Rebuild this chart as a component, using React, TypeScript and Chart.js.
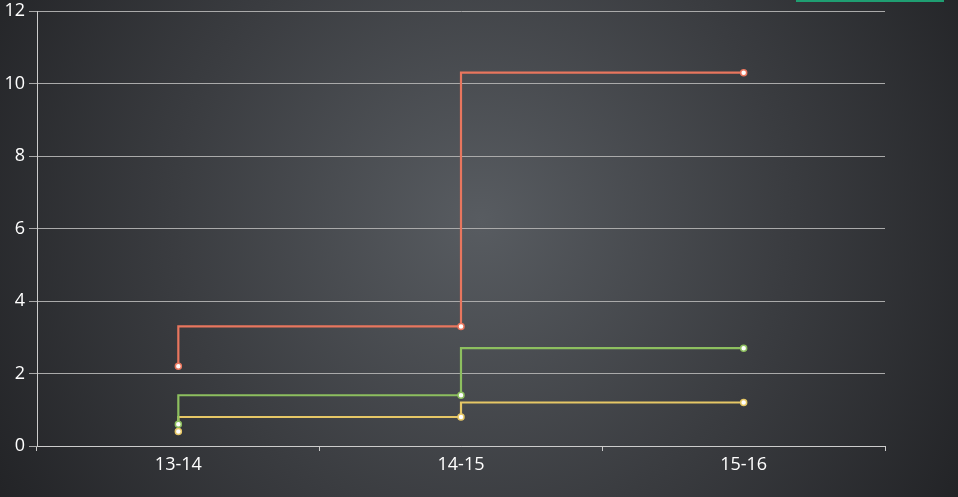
import React, { useEffect, useRef } from "react";
import { Chart, registerables } from "chart.js";

Chart.register(...registerables);

const categories = ["13-14", "14-15", "15-16"];
const redSeries = [2.2, 3.3, 10.3];
const greenSeries = [0.6, 1.4, 2.7];
const yellowSeries = [0.4, 0.8, 1.2];

const bgPlugin = {
  id: "bg",
  beforeDraw(chart: any) {
    const { ctx, width, height } = chart;
    ctx.save();
    const g = ctx.createRadialGradient(480, 220, 0, 480, 220, 560);
    g.addColorStop(0, "#585c61");
    g.addColorStop(0.55, "#3a3c40");
    g.addColorStop(1, "#222326");
    ctx.fillStyle = g;
    ctx.fillRect(0, 0, width, height);
    ctx.restore();
  },
  afterDraw(chart: any) {
    const { ctx } = chart;
    ctx.save();
    ctx.strokeStyle = "#1f9e72";
    ctx.lineWidth = 2;
    ctx.strokeRect(797, -20, 146, 21);
    ctx.restore();
  },
};

export default function App() {
  const ref = useRef<HTMLCanvasElement>(null);
  useEffect(() => {
    document.body.style.margin = "0";
    const font = { family: "'Open Sans', 'Noto Sans', sans-serif", size: 18 };
    const mk = (label: string, data: number[], color: string) => ({
      label,
      data,
      borderColor: color,
      backgroundColor: color,
      borderWidth: 2.2,
      stepped: "after" as const,
      pointRadius: 3,
      pointBackgroundColor: "#ffffff",
      pointBorderColor: color,
      pointBorderWidth: 1.5,
    });
    const chart = new Chart(ref.current!, {
      type: "line",
      data: {
        labels: categories,
        datasets: [
          mk("A", redSeries, "#e8765e"),
          mk("B", greenSeries, "#8dbf5f"),
          mk("C", yellowSeries, "#e6c766"),
        ],
      },
      options: {
        responsive: false,
        animation: false,
        layout: { padding: { top: 11, right: 73, left: 0, bottom: 0 } },
        plugins: { legend: { display: false }, tooltip: { enabled: false } },
        scales: {
          x: {
            offset: true,
            grid: {
              offset: true,
              drawOnChartArea: false,
              drawTicks: true,
              tickLength: 5,
              color: "#cccccc",
            },
            border: { color: "#cccccc", width: 1 },
            ticks: { color: "#ffffff", font, padding: 3 },
            afterFit(scale: any) {
              scale.height = 51;
            },
          },
          y: {
            min: 0,
            max: 12,
            ticks: { stepSize: 2, color: "#ffffff", font, padding: 4 },
            grid: { color: "#aaaaaa", tickLength: 8, lineWidth: 1 },
            border: { color: "#cccccc", width: 1 },
            afterFit(scale: any) {
              scale.width = 37;
              scale.paddingTop = 0;
              scale.paddingBottom = 0;
            },
          },
        },
      },
      plugins: [bgPlugin],
    });
    return () => chart.destroy();
  }, []);
  return <canvas ref={ref} width={958} height={497} style={{ display: "block" }} />;
}
